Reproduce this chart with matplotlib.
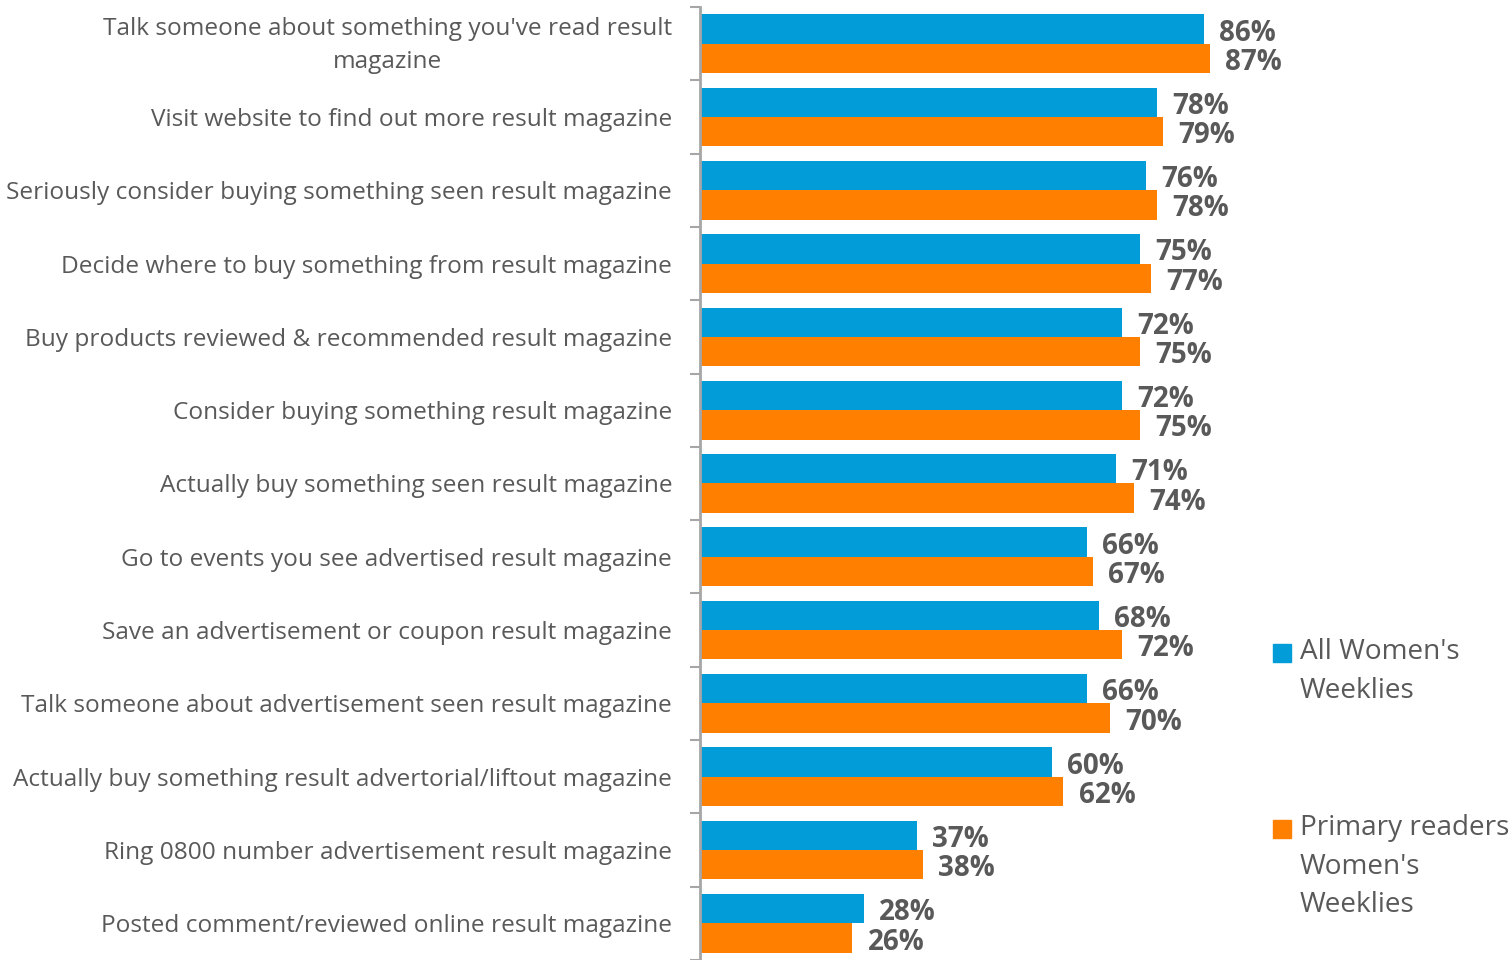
import matplotlib
matplotlib.use("Agg")
import matplotlib.pyplot as plt
from matplotlib.patches import Rectangle
from matplotlib.transforms import ScaledTranslation

categories = [
    "Talk someone about something you've read result\nmagazine",
    "Visit website to find out more result magazine",
    "Seriously consider buying something seen result magazine",
    "Decide where to buy something from result magazine",
    "Buy products reviewed & recommended result magazine",
    "Consider buying something result magazine",
    "Actually buy something seen result magazine",
    "Go to events you see advertised result magazine",
    "Save an advertisement or coupon result magazine",
    "Talk someone about advertisement seen result magazine",
    "Actually buy something result advertorial/liftout magazine",
    "Ring 0800 number advertisement result magazine",
    "Posted comment/reviewed online result magazine",
]
all_weeklies = [86, 78, 76, 75, 72, 72, 71, 66, 68, 66, 60, 37, 28]
primary_readers = [87, 79, 78, 77, 75, 75, 74, 67, 72, 70, 62, 38, 26]
series_names = ["All Women's\nWeeklies", "Primary readers\nWomen's\nWeeklies"]
series_colors = ["#029DD8", "#FF8000"]

TEXT = "#595959"
plt.rcParams["font.family"] = ["Open Sans", "DejaVu Sans"]

W, H = 1512, 960
fig = plt.figure(figsize=(W / 100, H / 100), dpi=100)
ax = fig.add_axes([700 / W, 0.0, 586.2 / W, 953 / H])

bar_h = 0.4
ys = list(range(len(categories)))
for k, (vals, color) in enumerate(zip([all_weeklies, primary_readers], series_colors)):
    offs = [y - bar_h / 2 + k * bar_h for y in ys]
    ax.barh(offs, vals, height=bar_h, color=color, edgecolor="none")
    for y, v in zip(offs, vals):
        ax.annotate(f"{v}%", xy=(v, y), xytext=(11, -8.3), textcoords="offset points",
                    ha="left", va="baseline", fontsize=20, fontweight="bold", color=TEXT)

ax.set_xlim(0, 100)
ax.set_ylim(len(categories) - 0.5, -0.5)

# category labels centred between tick marks placed at the group boundaries
ax.set_yticks(ys)
ax.set_yticklabels(categories, fontsize=17.6, color=TEXT, multialignment="center",
                   linespacing=1.47)
ax.tick_params(axis="y", which="major", length=0, pad=20)
ax.set_yticks([y + 0.5 for y in range(-1, len(categories))], minor=True)
ax.tick_params(axis="y", which="minor", length=7, width=1.5, color="#A6A6A6")
ax.tick_params(axis="x", bottom=False, labelbottom=False)

# two-line label: centre the whole block on its category
for lbl in ax.get_yticklabels():
    if "\n" in lbl.get_text():
        lbl.set_transform(lbl.get_transform() + ScaledTranslation(0, 5.5 / 100, fig.dpi_scale_trans))

for s in ["top", "right", "bottom"]:
    ax.spines[s].set_visible(False)
ax.spines["left"].set_color("#A6A6A6")
ax.spines["left"].set_linewidth(2)

# legend drawn in figure pixels
legend_rows = [653, 829]
for name, color, ycen in zip(series_names, series_colors, legend_rows):
    fig.patches.append(Rectangle((1273 / W, 1 - (ycen + 9) / H), 18 / W, 18 / H,
                                 transform=fig.transFigure, color=color))
    fig.text(1300 / W, 1 - (ycen - 15) / H, name, ha="left", va="top",
             fontsize=20.1, color=TEXT, linespacing=1.5)

fig.savefig("out.png", dpi=100)
